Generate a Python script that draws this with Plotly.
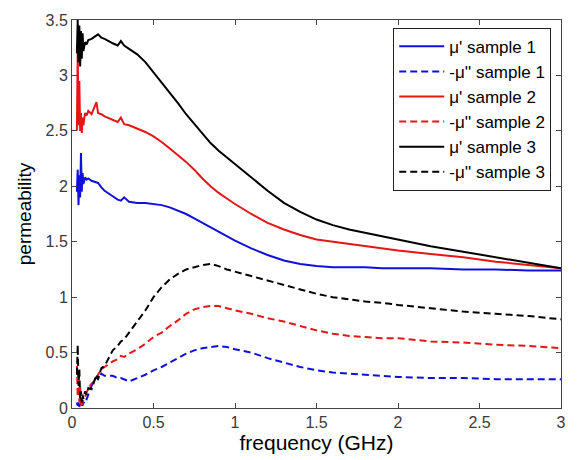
import plotly.graph_objects as go

freq = [0.03, 0.035, 0.04, 0.045, 0.05, 0.055, 0.06, 0.065, 0.07, 0.08,
        0.09, 0.1, 0.12, 0.15, 0.16, 0.18, 0.2, 0.25, 0.28, 0.3,
        0.32, 0.35, 0.4, 0.45, 0.5, 0.55, 0.6, 0.65, 0.7, 0.75,
        0.8, 0.85, 0.9, 0.95, 1.0, 1.1, 1.2, 1.3, 1.4, 1.5,
        1.6, 1.7, 1.8, 1.9, 2.0, 2.2, 2.4, 2.6, 2.8, 3.0]

mu1_s1 = [1.95, 2.15, 1.83, 2.10, 1.90, 2.30, 1.95, 2.12, 2.02, 2.08,
          2.06, 2.07, 2.05, 2.04, 2.03, 1.99, 1.96, 1.91, 1.88, 1.87,
          1.90, 1.86, 1.85, 1.85, 1.84, 1.83, 1.81, 1.78, 1.75, 1.71,
          1.67, 1.63, 1.59, 1.55, 1.51, 1.44, 1.38, 1.33, 1.30, 1.28,
          1.27, 1.27, 1.27, 1.26, 1.26, 1.26, 1.25, 1.25, 1.24, 1.24]
mu2_s1 = [0.05, 0.02, 0.06, 0.01, 0.04, 0.01, 0.03, 0.02, 0.05, 0.04,
          0.08, 0.12, 0.20, 0.28, 0.26, 0.31, 0.29, 0.29, 0.27, 0.27,
          0.26, 0.24, 0.27, 0.30, 0.34, 0.37, 0.41, 0.45, 0.49, 0.52,
          0.54, 0.55, 0.56, 0.55, 0.53, 0.50, 0.45, 0.41, 0.37, 0.34,
          0.32, 0.31, 0.30, 0.29, 0.28, 0.27, 0.27, 0.26, 0.26, 0.26]
mu1_s2 = [2.50, 3.22, 2.55, 2.95, 2.50, 2.66, 2.48, 2.62, 2.55, 2.66,
          2.64, 2.68, 2.65, 2.76, 2.66, 2.65, 2.63, 2.60, 2.58, 2.62,
          2.56, 2.55, 2.52, 2.49, 2.45, 2.40, 2.34, 2.28, 2.22, 2.15,
          2.07, 2.00, 1.94, 1.89, 1.84, 1.75, 1.67, 1.61, 1.56, 1.52,
          1.50, 1.48, 1.46, 1.44, 1.42, 1.39, 1.36, 1.32, 1.29, 1.26]
mu2_s2 = [0.38, 0.10, 0.30, 0.05, 0.20, 0.02, 0.10, 0.03, 0.08, 0.10,
          0.14, 0.18, 0.22, 0.26, 0.30, 0.35, 0.37, 0.42, 0.44, 0.47,
          0.46, 0.49, 0.53, 0.58, 0.64, 0.68, 0.74, 0.79, 0.85, 0.89,
          0.91, 0.92, 0.92, 0.90, 0.88, 0.85, 0.81, 0.78, 0.74, 0.70,
          0.67, 0.65, 0.64, 0.63, 0.63, 0.60, 0.59, 0.57, 0.56, 0.54]
mu1_s3 = [3.20, 3.50, 3.12, 3.45, 3.08, 3.40, 3.15, 3.38, 3.22, 3.30,
          3.28, 3.32, 3.33, 3.36, 3.37, 3.34, 3.33, 3.29, 3.27, 3.31,
          3.27, 3.24, 3.19, 3.12, 3.03, 2.94, 2.85, 2.75, 2.65, 2.56,
          2.47, 2.39, 2.32, 2.26, 2.20, 2.08, 1.96, 1.85, 1.77, 1.70,
          1.65, 1.61, 1.58, 1.55, 1.52, 1.46, 1.41, 1.36, 1.31, 1.26]
mu2_s3 = [0.30, 0.57, 0.20, 0.35, 0.08, 0.15, 0.05, 0.12, 0.08, 0.15,
          0.12, 0.18, 0.17, 0.30, 0.26, 0.36, 0.38, 0.52, 0.56, 0.60,
          0.62, 0.68, 0.77, 0.88, 1.00, 1.09, 1.16, 1.21, 1.25, 1.27,
          1.29, 1.30, 1.28, 1.25, 1.23, 1.19, 1.15, 1.11, 1.07, 1.03,
          1.00, 0.98, 0.96, 0.95, 0.93, 0.90, 0.87, 0.85, 0.83, 0.80]

names = ["\u03bc' sample 1", "-\u03bc'' sample 1", "\u03bc' sample 2",
         "-\u03bc'' sample 2", "\u03bc' sample 3", "-\u03bc'' sample 3"]
series = [mu1_s1, mu2_s1, mu1_s2, mu2_s2, mu1_s3, mu2_s3]
colors = ["#1010dc", "#1010dc", "#e41616", "#e41616", "#000000", "#000000"]
dashes = ["solid", "7px,4px", "solid", "7px,4px", "solid", "7px,4px"]

fig = go.Figure()
for i, (nm, ys, c, d) in enumerate(zip(names, series, colors, dashes)):
    fig.add_trace(go.Scatter(x=freq, y=ys, mode="lines", name=nm,
                             legendgroup=f"g{i}",
                             line=dict(color=c, width=2, dash=d)))

axis_common = dict(showline=True, linecolor="#444444", linewidth=1, mirror="ticks",
                   ticks="inside", ticklen=5, tickcolor="#444444",
                   showgrid=False, zeroline=False,
                   tickfont=dict(family="Liberation Sans, Arial", size=16, color="#3a3a3a"))

fig.update_layout(
    width=578, height=460,
    margin=dict(l=72, r=13, t=19, b=51),
    paper_bgcolor="white", plot_bgcolor="white",
    font=dict(family="Liberation Sans, Arial", color="#000000"),
    xaxis=dict(range=[0, 3], tickvals=[0, 0.5, 1, 1.5, 2, 2.5, 3],
               ticktext=["0", "0.5", "1", "1.5", "2", "2.5", "3"],
               title=dict(text="frequency (GHz)", font=dict(size=21), standoff=2),
               **axis_common),
    yaxis=dict(range=[0, 3.5], tickvals=[0, 0.5, 1, 1.5, 2, 2.5, 3, 3.5],
               ticktext=["0", "0.5", "1", "1.5", "2", "2.5", "3", "3.5"],
               title=dict(text="permeability", font=dict(size=19), standoff=8),
               **axis_common),
    legend=dict(x=0.98, y=0.98, xanchor="right", yanchor="top",
                bgcolor="white", bordercolor="#222222", borderwidth=1,
                font=dict(family="Liberation Sans, Arial", size=17, color="#000000"),
                tracegroupgap=0, itemwidth=45),
    showlegend=True,
)

fig.write_html("out.html")
